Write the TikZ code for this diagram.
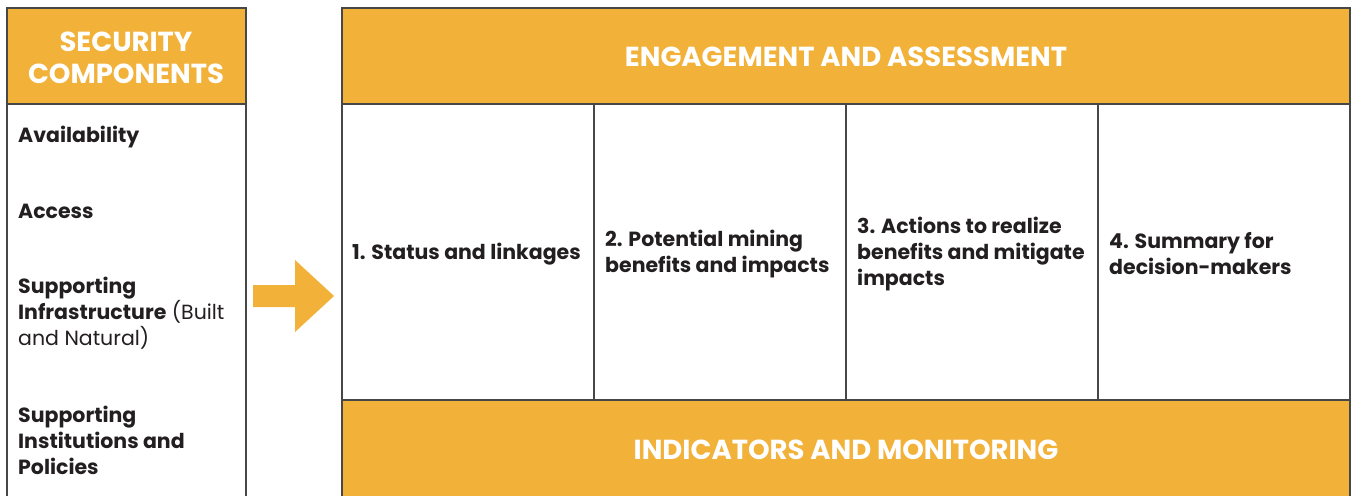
\documentclass[tikz,border=0pt]{standalone}
\usepackage{fontspec}
\setmainfont{Poppins}
\definecolor{orng}{HTML}{F2B138}
\definecolor{edge}{HTML}{474747}
\definecolor{ink}{HTML}{231F20}
\begin{document}
\begin{tikzpicture}[x=1pt,y=-1pt,
  frame/.style={draw=edge,line width=1.2pt},
  band/.style={fill=orng,draw=edge,line width=1.2pt},
  title/.style={text=white,font=\fontsize{27.5}{32}\selectfont\bfseries,align=center},
  item/.style={anchor=west,align=left,inner sep=0pt,font=\fontsize{20.5}{26}\selectfont,text=ink},
  arrowfill/.style={fill=orng,draw=none},
]
\useasboundingbox (0,0) rectangle (1351,495);
\fill[white] (0,0) rectangle (1351,495);
% left panel
\draw[band] (7,8) rectangle (246,104);
\draw[frame] (7,104) -- (7,500);
\draw[frame] (246,104) -- (246,500);
\node[title] (sec) at (126,58) {SECURITY\\COMPONENTS};
\node[item] (avail) at (18,137) {\textbf{Availability}};
\node[item] (access) at (18,211) {\textbf{Access}};
\node[item] (infra) at (18,313) {\textbf{Supporting}\\\textbf{Infrastructure} (Built\\and Natural)};
\node[item] (inst) at (18,440) {\textbf{Supporting}\\\textbf{Institutions and}\\\textbf{Policies}};
% arrow
\fill[arrowfill] (253,285) -- (295,285) -- (295,260) -- (334,296) -- (295,332) -- (295,307) -- (253,307) -- cycle;
% right panel
\draw[band] (342,8) rectangle (1350,104);
\draw[band] (342,400) rectangle (1350,500);
\draw[frame] (342,104) -- (342,400);
\draw[frame] (1350,104) -- (1350,400);
\draw[frame] (594,104) -- (594,400);
\draw[frame] (846,104) -- (846,400);
\draw[frame] (1098,104) -- (1098,400);
\node[title] (eng) at (846,57) {ENGAGEMENT AND ASSESSMENT};
\node[title] (ind) at (846,450) {INDICATORS AND MONITORING};
\node[item] (c1) at (352,254) {\textbf{1. Status and linkages}};
\node[item] (c2) at (605,254) {\textbf{2. Potential mining}\\\textbf{benefits and impacts}};
\node[item] (c3) at (857,254) {\textbf{3. Actions to realize}\\\textbf{benefits and mitigate}\\\textbf{impacts}};
\node[item] (c4) at (1109,254) {\textbf{4. Summary for}\\\textbf{decision-makers}};
\end{tikzpicture}
\end{document}
